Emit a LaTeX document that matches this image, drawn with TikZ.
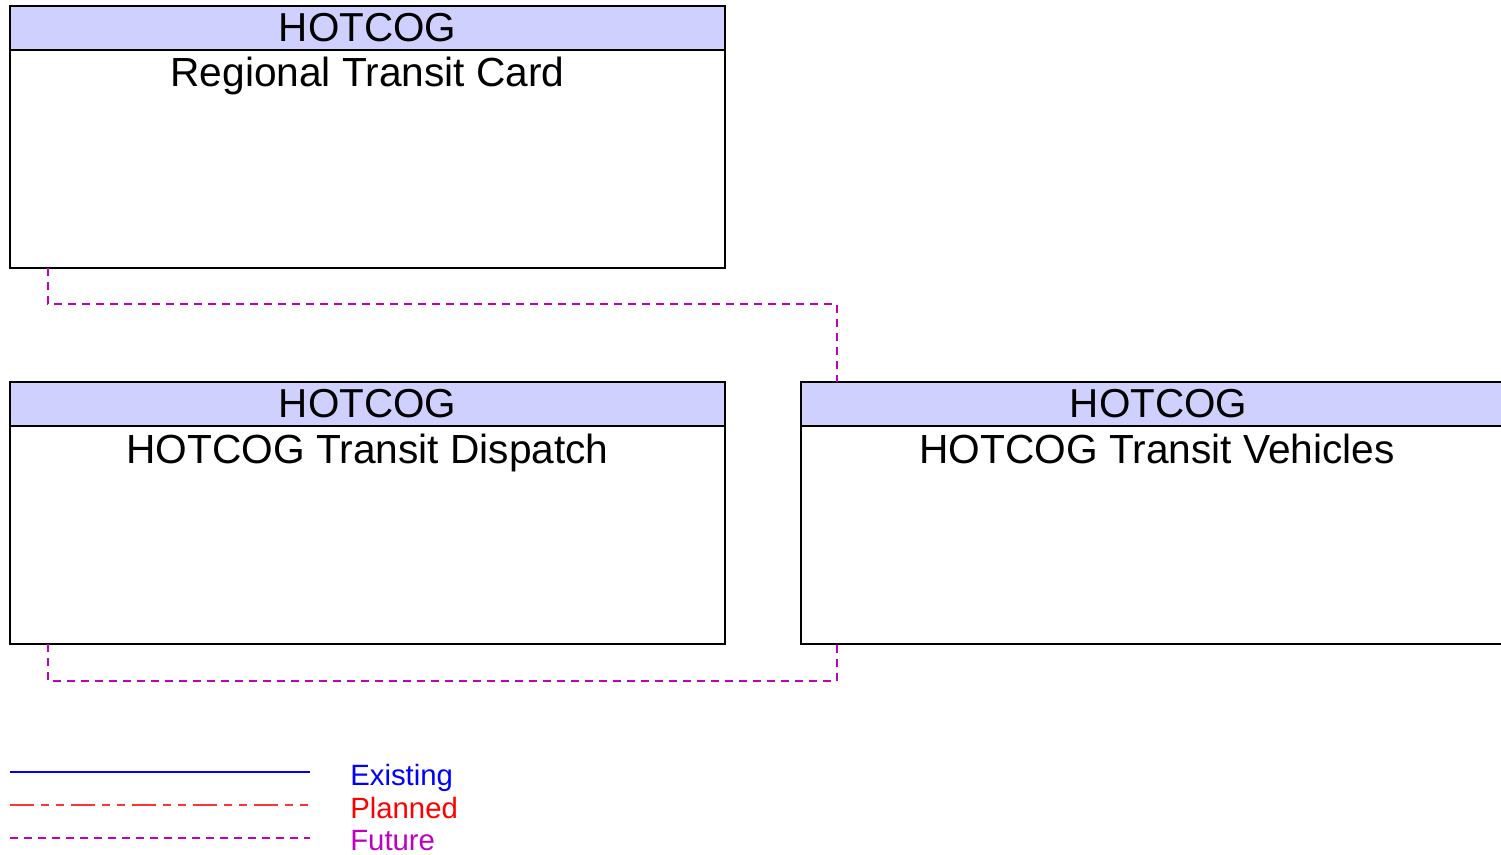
\documentclass[tikz,border=0pt]{standalone}
\usepackage{fontspec}
\setmainfont{Liberation Sans}
\usetikzlibrary{positioning}

\definecolor{hdfill}{RGB}{208,208,255}
\definecolor{futurec}{RGB}{192,0,192}
\definecolor{plannedc}{RGB}{255,0,0}
\definecolor{existc}{RGB}{0,0,255}

\begin{document}
\begin{tikzpicture}[
  x=0.75pt,y=-0.75pt,
  head/.style={draw,line width=1pt,fill=hdfill,minimum width=536.25pt,minimum height=33pt,
               inner sep=0pt,outer sep=0pt,font=\fontsize{30.3}{36}\selectfont},
  body/.style={draw,line width=1pt,fill=white,minimum width=536.25pt,minimum height=163.5pt,
               inner sep=0pt,outer sep=0pt},
  elname/.style={anchor=base,inner sep=0pt,font=\fontsize{30.5}{36}\selectfont},
  future/.style={futurec,line width=1pt,dash pattern=on 6pt off 4.5pt},
  planned/.style={plannedc!80,line width=1.3pt,
                  dash pattern=on 18pt off 5.25pt on 6pt off 5.25pt on 6pt off 5.25pt},
  existing/.style={existc,line width=2.2pt},
  legtext/.style={anchor=base west,inner sep=0pt,font=\fontsize{22}{26}\selectfont}
]
\useasboundingbox (0,0) rectangle (1501,855);
\clip (0,0) rectangle (1501,855);
% elements
\node[head] (cardhd) at (367.5,28) {HOTCOG};
\node[body,below=0pt of cardhd] (card) {};
\node[elname] (cardname) at (367.5,87) {Regional Transit Card};

\node[head] (disphd) at (367.5,404) {HOTCOG};
\node[body,below=0pt of disphd] (disp) {};
\node[elname] (dispname) at (367.5,463) {HOTCOG Transit Dispatch};

\node[head] (vehhd) at (1158.5,404) {HOTCOG};
\node[body,below=0pt of vehhd] (veh) {};
\node[elname] (vehname) at (1157,463) {HOTCOG Transit Vehicles};

% flows
\draw[future] ([xshift=28.5pt]card.south west) -- ++(0,36) -| ([xshift=27pt]vehhd.north west);
\draw[future] ([xshift=28.5pt]disp.south west) -- ++(0,37) -| ([xshift=27pt]veh.south west);

% legend
\coordinate (ex1) at (10,772);
\coordinate (ex2) at (310,772);
\coordinate (pl1) at (10,805);
\coordinate (pl2) at (310,805);
\coordinate (fu1) at (10,838);
\coordinate (fu2) at (310,838);
\draw[existing] (ex1) -- (ex2);
\draw[planned] (pl1) -- (pl2);
\draw[future] (fu1) -- (fu2);
\node[legtext,text=existc] (exlab) at (350,785) {Existing};
\node[legtext,text=plannedc] (pllab) at (350,818) {Planned};
\node[legtext,text=futurec] (fulab) at (350,850) {Future};
\end{tikzpicture}
\end{document}
